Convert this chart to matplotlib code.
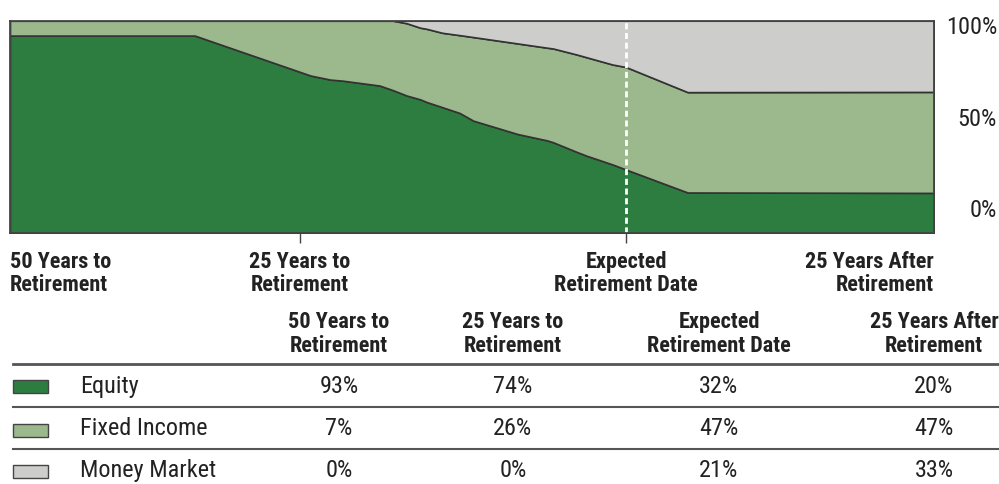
import matplotlib
matplotlib.use('Agg')
import matplotlib.pyplot as plt
from matplotlib.patches import Rectangle
from matplotlib.lines import Line2D
from matplotlib.transforms import blended_transform_factory

# ---------------- data ----------------
years = [-50, -35, -25.6, -24, -23, -20, -18.9, -17.8, -16.7, -16.2, -14.9,
         -13.5, -12.4, -8.8, -6.4, -5.9, -4.0, -3.2, -1.1, 0, 5, 25]
equity = [93, 93, 74.2, 72.3, 71.8, 69.5, 67.3, 64.8, 63.0, 61.8, 59.3,
          56.6, 53.0, 46.7, 43.7, 42.8, 38.3, 36.5, 32.4, 30.0, 19.2, 19.0]
fixed_income = [7, 7, 25.8, 27.7, 28.2, 30.5, 32.7, 34.0, 33.7, 34.4, 35.0,
                36.6, 39.3, 42.6, 43.6, 44.1, 45.8, 46.3, 47.0, 48.2, 47.2, 47.5]
money_market = [0, 0, 0, 0, 0, 0, 0, 1.2, 3.3, 3.8, 5.7,
                6.8, 7.7, 10.7, 12.7, 13.1, 15.9, 17.2, 20.6, 21.8, 33.6, 33.5]

series_names = ['Equity', 'Fixed Income', 'Money Market']
milestones = ['50 Years to\nRetirement', '25 Years to\nRetirement',
              'Expected\nRetirement Date', '25 Years After\nRetirement']
milestone_pos = [-50, -26.5, 0, 25]
ytick_labels = ['100%', '50%', '0%']
ytick_pos = [98.4, 55.2, 12.4]

table_equity = ['93%', '74%', '32%', '20%']
table_fixed = ['7%', '26%', '47%', '47%']
table_mm = ['0%', '0%', '21%', '33%']

# ---------------- style ----------------
colors = ['#2E7D40', '#9BB98D', '#CDCDCB']
edge = '#333333'
FONT = ['Roboto Condensed', 'DejaVu Sans']
W, H = 999, 485
BOLD_SIZE = 16
REG_SIZE = 17.5

def fy(py):
    return 1 - py / H

def fx(px):
    return px / W

fig = plt.figure(figsize=(W / 100, H / 100), dpi=100)
ax = fig.add_axes([fx(10), fy(234.3), 924 / W, 212.6 / H])

ax.stackplot(years, equity, fixed_income, money_market, colors=colors,
             edgecolor=edge, linewidth=1.2)
ax.set_xlim(-50, 25)
ax.set_ylim(0, 100)
ax.axvline(0, color='white', lw=2.0, ls=(0, (2.2, 1.3)), zorder=5)

for s in ax.spines.values():
    s.set_color('#444444')
    s.set_linewidth(1.3)
    s.set_zorder(6)

ax.set_xticks(milestone_pos[1:3])
ax.set_xticklabels([])
ax.tick_params(axis='x', direction='out', length=7, width=1, color='#444444')

ax.yaxis.tick_right()
ax.set_yticks(ytick_pos)
ax.set_yticklabels(ytick_labels, family=FONT, fontsize=REG_SIZE, color='#222222')
ax.tick_params(axis='y', length=0, pad=45.4)
for lab in ax.get_yticklabels():
    lab.set_ha('right')

# milestone labels under the chart
tr = blended_transform_factory(ax.transData, fig.transFigure)
has = ['left', 'center', 'center', 'right']
for txt, xp, ha in zip(milestones, milestone_pos, has):
    for i, line in enumerate(txt.split('\n')):
        ax.text(xp, fy(268 + 23 * i), line, transform=tr, ha=ha, va='baseline',
                family=FONT, fontsize=BOLD_SIZE, fontweight='bold', color='#222222')

# ---------------- table ----------------
col_x = [339, 513, 719, 934]
for txt, cx in zip(milestones, col_x):
    for i, line in enumerate(txt.split('\n')):
        fig.text(fx(cx), fy(328 + 24 * i), line, ha='center', va='baseline',
                 family=FONT, fontsize=BOLD_SIZE, fontweight='bold', color='#222222')

line_y = [365, 408, 450]
line_w = [2.0, 1.5, 1.5]
for ly, lw in zip(line_y, line_w):
    fig.add_artist(Line2D([fx(13), fx(999)], [fy(ly), fy(ly)], color='#555555',
                          lw=lw, transform=fig.transFigure))

row_base = [393, 435, 477]
rows = [table_equity, table_fixed, table_mm]
sw_top = [381, 425, 466]
for name, vals, base, c, st in zip(series_names, rows, row_base, colors, sw_top):
    fig.add_artist(Rectangle((fx(13), fy(st + 12.5)), 35 / W, 12.5 / H,
                             facecolor=c, edgecolor='#444444', lw=1.0,
                             transform=fig.transFigure))
    fig.text(fx(80), fy(base), name, ha='left', va='baseline', family=FONT,
             fontsize=REG_SIZE, color='#222222')
    for v, cx in zip(vals, col_x):
        fig.text(fx(cx), fy(base), v, ha='center', va='baseline', family=FONT,
                 fontsize=REG_SIZE, color='#222222')

fig.savefig('out.png', dpi=100)
